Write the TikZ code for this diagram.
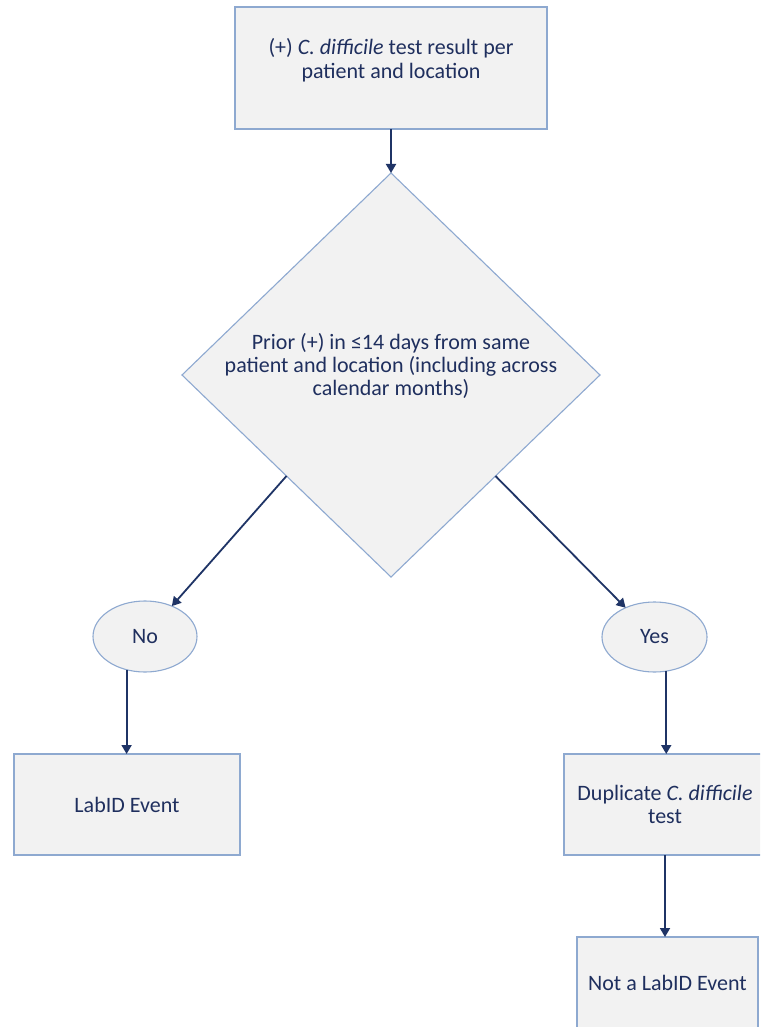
\documentclass[tikz,border=0pt]{standalone}
\usepackage{fontspec}
\setmainfont{Carlito}
\usetikzlibrary{shapes.geometric,arrows.meta}
\definecolor{boxfill}{HTML}{F2F2F2}
\definecolor{boxline}{HTML}{8EA9D0}
\definecolor{txt}{HTML}{1F2F5E}
\definecolor{arrowc}{HTML}{1F3466}
\newcommand{\dline}[1]{\makebox[200pt]{#1}}
\tikzset{
  base/.style={draw=boxline, fill=boxfill, line width=1.1pt, text=txt, align=center,
    inner sep=0pt, outer sep=0pt, font=\fontsize{22}{23}\selectfont},
  boxnode/.style={base, rectangle},
  decnode/.style={base, diamond},
  ovalnode/.style={base, ellipse},
  arr/.style={draw=arrowc, line width=1.8pt, -{Triangle[width=10pt,length=9pt]}},
}
\begin{document}
\begin{tikzpicture}[x=1pt,y=-1pt]
\useasboundingbox (0,0) rectangle (760,1027);
\clip (0,0) rectangle (760,1027);
\fill[white] (0,0) rectangle (760,1027);

\node[boxnode, minimum width=312pt, minimum height=122pt] (top) at (391,68)
  {(+) \textit{C. difficile} test result per\\[1pt]patient and location\\[-10pt]\strut};
\node[decnode, minimum width=418pt, minimum height=404pt] (d) at (391,375)
  {\dline{Prior (+) in ≤14 days from same}\\\dline{patient and location (including across}\\\dline{calendar months)}\\[-8pt]\strut};
\node[ovalnode, minimum width=104pt, minimum height=71pt] (no) at (145,636.5) {No};
\node[ovalnode, minimum width=105pt, minimum height=70pt] (yes) at (654.5,637) {Yes};
\node[boxnode, minimum width=226pt, minimum height=101pt] (labid) at (127,804.5) {LabID Event};
\node[boxnode, minimum width=202pt, minimum height=101pt] (dup) at (665,804.5)
  {Duplicate \textit{C. difficile}\\test};
\node[boxnode, minimum width=181pt, minimum height=92pt] (not) at (667.5,983) {Not a LabID Event};

\draw[arr] (top.south) -- (d.north);
\draw[arr] (d.south west) -- (no);
\draw[arr] (d.south east) -- (yes);
\draw[arr] (no.241) -- (no.241 |- labid.north);
\draw[arr] (yes.289) -- (yes.289 |- dup.north);
\draw[arr] (dup.south) -- (dup.south |- not.north);
\end{tikzpicture}
\end{document}
